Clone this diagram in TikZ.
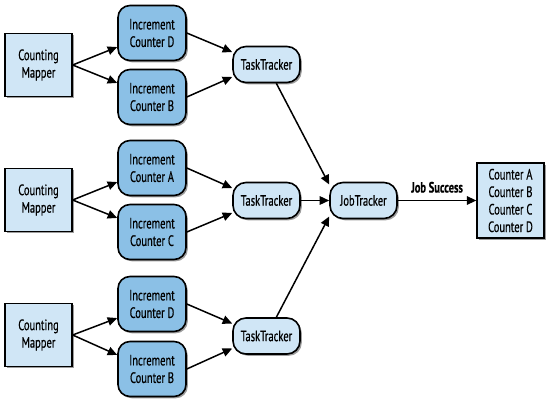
\documentclass[tikz,border=0pt]{standalone}
\usepackage{fontspec}
\setmainfont{PT Sans}[FakeStretch=0.7, FakeBold=0.5]
\usetikzlibrary{arrows.meta,shadows}
\definecolor{paleblue}{HTML}{D0E6F6}
\definecolor{midblue}{HTML}{8BC0E6}
\begin{document}
\begin{tikzpicture}[x=1pt,y=-1pt,
  every node/.style={font=\fontsize{15}{17.5}\selectfont, align=center, inner sep=0pt},
  shade/.style={drop shadow={shadow xshift=1.8pt, shadow yshift=-1.8pt, fill=black!55, opacity=0.7}},
  mapper/.style={draw, line width=1.3pt, fill=paleblue, minimum width=67pt, minimum height=63pt, shade},
  incbox/.style={draw, line width=1.6pt, fill=midblue, rounded corners=12pt, minimum width=68pt, minimum height=55pt, shade},
  tracker/.style={draw, line width=1.6pt, fill=paleblue, rounded corners=13pt, minimum width=67pt, minimum height=36pt, shade},
  result/.style={draw, line width=1.3pt, fill=paleblue, minimum width=67pt, minimum height=75pt, shade},
  flow/.style={line width=1.5pt, -{Triangle[length=9.5pt,width=8.5pt]}}
]
\useasboundingbox (0,0) rectangle (554,407);

% three mapper groups
\node[mapper] (m1) at (38.5,65) {Counting\\Mapper};
\node[mapper] (m2) at (38.5,200) {Counting\\Mapper};
\node[mapper] (m3) at (38.5,335) {Counting\\Mapper};

\node[incbox] (i1a) at (152,33) {Increment\\Counter D};
\node[incbox] (i1b) at (152,97) {Increment\\Counter B};
\node[incbox] (i2a) at (152,168) {Increment\\Counter A};
\node[incbox] (i2b) at (152,232) {Increment\\Counter C};
\node[incbox] (i3a) at (152,304) {Increment\\Counter D};
\node[incbox] (i3b) at (152,369) {Increment\\Counter B};

\node[tracker] (t1) at (266.5,64.5) {TaskTracker};
\node[tracker] (t2) at (266.5,200.5) {TaskTracker};
\node[tracker] (t3) at (266.5,336) {TaskTracker};

\node[tracker] (jt) at (363.5,200.5) {JobTracker};
\node[result] (res) at (510.5,200.5) {Counter A\\Counter B\\Counter C\\Counter D};

% connectors
\foreach \m/\a/\b/\t in {m1/i1a/i1b/t1, m2/i2a/i2b/t2, m3/i3a/i3b/t3}{
  \draw[flow] (\m.east) -- (\a.202);
  \draw[flow] (\m.east) -- (\b.158);
  \draw[flow] (\a.east) -- (\t.160);
  \draw[flow] (\b.east) -- (\t.200);
}
\draw[flow] (t1) -- (jt.155);
\draw[flow] (t2) -- (jt);
\draw[flow] (t3) -- (jt.205);
\draw[flow] (jt) -- node[above=7pt, font=\fontsize{15}{17.5}\selectfont\bfseries] (lbl) {Job Success} (res);
\end{tikzpicture}
\end{document}
